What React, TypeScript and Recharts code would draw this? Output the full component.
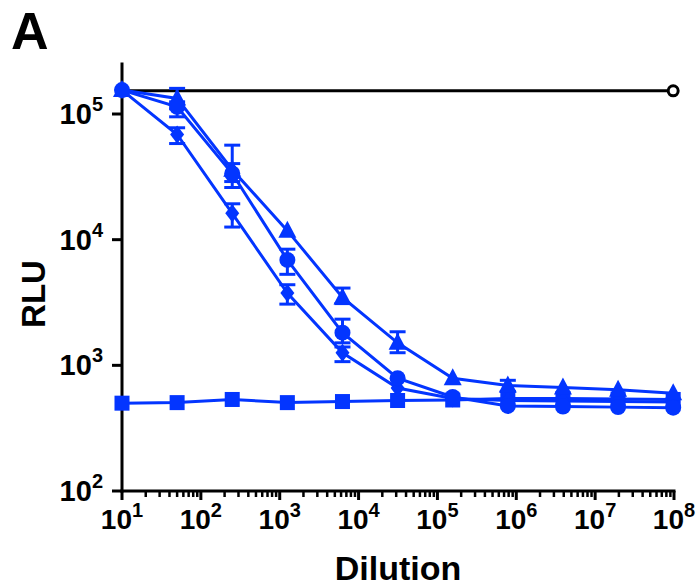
import React from 'react';
import { ComposedChart, Line, XAxis, YAxis, ErrorBar } from 'recharts';

const dilutions = [10, 50, 250, 1250, 6250, 31250, 156250, 781250, 3906250, 19531250, 97656250];

const triangleRLU = [155000, 133000, 36000, 11800, 3470, 1510, 790, 690, 665, 640, 600];
const triangleHi = [null, 160000, 56500, null, 4120, 1850, null, 760, null, null, null];
const triangleLo = [null, 110000, 26000, null, 3100, 1260, null, 620, null, null, null];

const circleRLU = [155000, 114000, 33600, 6900, 1820, 790, 560, 475, 470, 465, 460];
const circleHi = [null, 125000, 40300, 8400, 2330, null, null, null, null, null, null];
const circleLo = [null, 95000, 29000, 5300, 1510, null, null, null, null, null, null];

const diamondRLU = [155000, 68700, 16200, 3760, 1260, 660, 545, 525, 520, 515, 510];
const diamondHi = [null, 77700, 19300, 4380, 1400, null, null, null, null, null, null];
const diamondLo = [null, 58200, 12600, 3070, 1070, null, null, null, null, null, null];

const squareRLU = [500, 505, 535, 505, 515, 525, 530, 545, 545, 540, 535];

const controlRLU = [153000, null, null, null, null, null, null, null, null, null, 153000];

const xMajorTicks = [10, 100, 1000, 10000, 100000, 1000000, 10000000, 100000000];
const yMajorTicks = [100, 1000, 10000, 100000];

const BLUE = '#0335ff';
const FONT = '"Liberation Sans", Arial, Helvetica, sans-serif';

const errPair = (v: number, hi: number | null, lo: number | null) =>
  hi == null || lo == null ? null : [v - lo, hi - v];

const data = dilutions.map((d, i) => ({
  d,
  tri: triangleRLU[i],
  triErr: errPair(triangleRLU[i], triangleHi[i], triangleLo[i]),
  cir: circleRLU[i],
  cirErr: errPair(circleRLU[i], circleHi[i], circleLo[i]),
  dia: diamondRLU[i],
  diaErr: errPair(diamondRLU[i], diamondHi[i], diamondLo[i]),
  sq: squareRLU[i],
  ctrl: controlRLU[i],
}));

const xTicks: number[] = [];
for (let k = 0; k < xMajorTicks.length - 1; k++) {
  for (let m = 1; m <= 9; m++) xTicks.push(xMajorTicks[k] * m);
}
xTicks.push(xMajorTicks[xMajorTicks.length - 1]);

const makeDot = (shape: string) => (props: any) => {
  const { cx, cy, index } = props;
  const key = `${shape}-${index}`;
  if (cx == null || cy == null || Number.isNaN(cx) || Number.isNaN(cy)) return <g key={key} />;
  if (shape === 'circle') return <circle key={key} cx={cx} cy={cy} r={8} fill={BLUE} />;
  if (shape === 'square') return <rect key={key} x={cx - 7.5} y={cy - 7.5} width={15} height={15} fill={BLUE} />;
  if (shape === 'triangle')
    return <path key={key} d={`M${cx},${cy - 10} L${cx + 9},${cy + 7} L${cx - 9},${cy + 7} Z`} fill={BLUE} />;
  if (shape === 'diamond')
    return <path key={key} d={`M${cx},${cy - 9} L${cx + 7},${cy} L${cx},${cy + 9} L${cx - 7},${cy} Z`} fill={BLUE} />;
  return <g key={key} />;
};

const controlDot = (props: any) => {
  const { cx, cy, index } = props;
  const key = `ctrl-${index}`;
  if (index !== dilutions.length - 1 || cx == null || cy == null) return <g key={key} />;
  return <circle key={key} cx={cx} cy={cy} r={5} fill="#fff" stroke="#000" strokeWidth={3} />;
};

const XTick = (props: any) => {
  const { x, y, payload } = props;
  const v = payload.value;
  const lg = Math.log10(v);
  const exp = Math.round(lg);
  const major = Math.abs(lg - exp) < 1e-6;
  return (
    <g>
      <line x1={x} x2={x} y1={y} y2={y + (major ? 9 : 6)} stroke="#000" strokeWidth={major ? 3 : 2.5} />
      {major && (
        <text x={x} y={y + 38} textAnchor="middle" fontFamily={FONT} fontWeight="bold" fontSize={28} fill="#000">
          <tspan>10</tspan>
          <tspan dy={-12} fontSize={20}>{exp}</tspan>
        </text>
      )}
    </g>
  );
};

const YTick = (props: any) => {
  const { x, y, payload } = props;
  const exp = Math.round(Math.log10(payload.value));
  return (
    <g>
      <line x1={x - 10} x2={x} y1={y} y2={y} stroke="#000" strokeWidth={3} />
      <text x={x - 19} y={y + 10} textAnchor="end" fontFamily={FONT} fontWeight="bold" fontSize={29} fill="#000">
        <tspan>10</tspan>
        <tspan dy={-13} fontSize={20}>{exp}</tspan>
      </text>
    </g>
  );
};

export default function App() {
  return (
    <div style={{ position: 'absolute', left: 0, top: 0, width: 700, height: 588, background: '#fff' }}>
      <ComposedChart
        width={700}
        height={588}
        data={data}
        margin={{ top: 64, right: 26, left: 0, bottom: 0 }}
      >
        <XAxis
          dataKey="d"
          type="number"
          scale="log"
          domain={[10, 100000000]}
          ticks={xTicks}
          interval={0}
          tick={<XTick />}
          tickLine={false}
          tickSize={0}
          tickMargin={0}
          height={97}
          axisLine={{ stroke: '#000', strokeWidth: 3, strokeLinecap: 'square' }}
        />
        <YAxis
          type="number"
          scale="log"
          domain={[100, 250000]}
          ticks={yMajorTicks}
          interval={0}
          tick={<YTick />}
          tickLine={false}
          tickSize={0}
          tickMargin={0}
          width={122}
          axisLine={{ stroke: '#000', strokeWidth: 3, strokeLinecap: 'square' }}
        />
        <Line dataKey="ctrl" stroke="#000" strokeWidth={3} connectNulls dot={controlDot} isAnimationActive={false} />
        <Line dataKey="sq" stroke={BLUE} strokeWidth={3} dot={makeDot('square')} isAnimationActive={false} />
        <Line dataKey="dia" stroke={BLUE} strokeWidth={3} dot={makeDot('diamond')} isAnimationActive={false}>
          <ErrorBar dataKey="diaErr" direction="y" width={8} stroke={BLUE} strokeWidth={3} />
        </Line>
        <Line dataKey="tri" stroke={BLUE} strokeWidth={3} dot={makeDot('triangle')} isAnimationActive={false}>
          <ErrorBar dataKey="triErr" direction="y" width={8} stroke={BLUE} strokeWidth={3} />
        </Line>
        <Line dataKey="cir" stroke={BLUE} strokeWidth={3} dot={makeDot('circle')} isAnimationActive={false}>
          <ErrorBar dataKey="cirErr" direction="y" width={8} stroke={BLUE} strokeWidth={3} />
        </Line>
      </ComposedChart>
      <svg width={700} height={588} style={{ position: 'absolute', left: 0, top: 0, pointerEvents: 'none' }}>
        <text x={11} y={49} fontFamily={FONT} fontWeight="bold" fontSize={52} fill="#000">A</text>
        <text x={398} y={580} textAnchor="middle" fontFamily={FONT} fontWeight="bold" fontSize={34} fill="#000">Dilution</text>
        <text transform="translate(45,294) rotate(-90)" textAnchor="middle" fontFamily={FONT} fontWeight="bold" fontSize={33} fill="#000">RLU</text>
      </svg>
    </div>
  );
}
